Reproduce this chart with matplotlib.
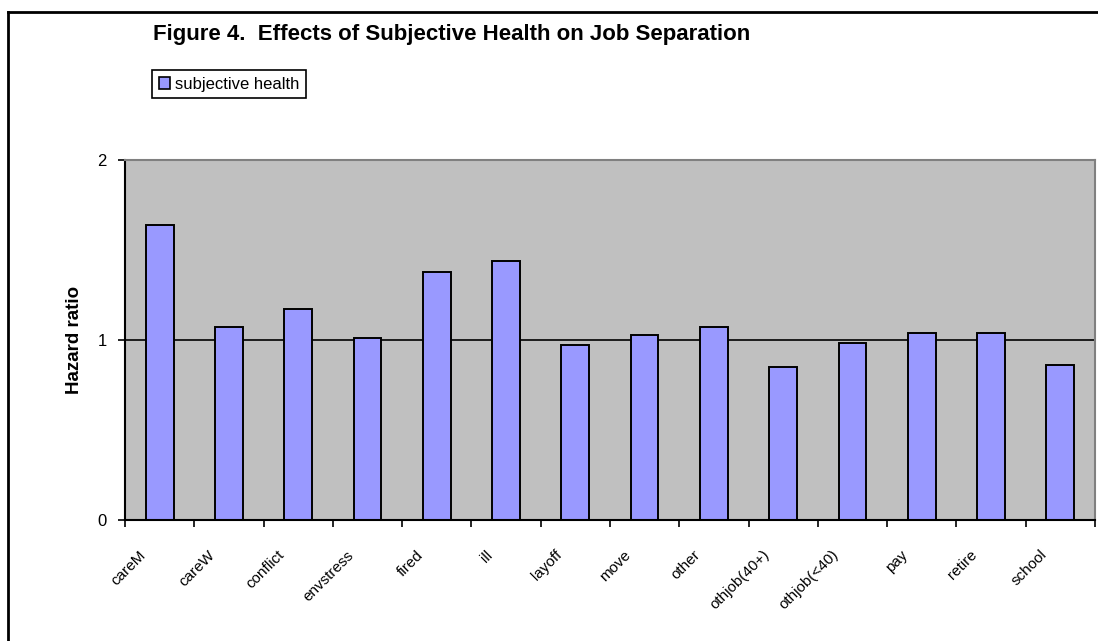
import matplotlib
matplotlib.use("Agg")
import matplotlib.pyplot as plt
from matplotlib.patches import Patch
from matplotlib.lines import Line2D
from matplotlib.transforms import ScaledTranslation
import numpy as np

plt.rcParams['font.family'] = ['Liberation Sans', 'DejaVu Sans']

# Hazard ratios by reason for job separation
reasons = ['careM', 'careW', 'conflict', 'envstress', 'fired', 'ill', 'layoff',
           'move', 'other', 'othjob(40+)', 'othjob(<40)', 'pay', 'retire', 'school']
hazard = [1.64, 1.07, 1.17, 1.01, 1.38, 1.44, 0.97,
          1.03, 1.07, 0.85, 0.985, 1.04, 1.04, 0.86]
y_ticks = [0, 1, 2]

W, H = 1098, 641
fig = plt.figure(figsize=(W / 100, H / 100), dpi=100)
ax = fig.add_axes([125 / W, 1 - 520 / H, 970 / W, 360 / H])

x = np.arange(len(reasons))
ax.set_facecolor('#C0C0C0')
ax.axhline(1, color='black', lw=1.2, zorder=1)
ax.bar(x, hazard, width=0.4, color='#9999FF', edgecolor='black', linewidth=1.4, zorder=2)

ax.set_xlim(-0.5, len(reasons) - 0.5)
ax.set_ylim(0, 2)

# boundaries between categories carry the tick marks, centres carry the names
ax.set_xticks(np.arange(-0.5, len(reasons), 1.0))
ax.set_xticklabels([])
ax.set_xticks(x, minor=True)
ax.set_xticklabels(reasons, minor=True, rotation=45, ha='right', va='top', fontsize=11)
ax.tick_params(axis='x', which='major', direction='out', length=5, width=1.2)
ax.tick_params(axis='x', which='minor', length=0, pad=20)
shift = ScaledTranslation(-11 / 100, 0, fig.dpi_scale_trans)
for lbl in ax.get_xticklabels(minor=True):
    lbl.set_transform(lbl.get_transform() + shift)

ax.set_yticks(y_ticks)
ax.set_yticklabels([str(v) for v in y_ticks], fontsize=12)
ax.tick_params(axis='y', direction='out', length=5, width=1.2, pad=8)

ax.spines['left'].set_linewidth(1.5)
ax.spines['bottom'].set_linewidth(1.5)
for side in ('top', 'right'):
    ax.spines[side].set_color('#808080')
    ax.spines[side].set_linewidth(1.5)

ax.set_ylabel('Hazard ratio', fontsize=13.5, fontweight='bold')
ax.yaxis.set_label_coords(-0.043, 0.5)

fig.text(153 / W, 1 - 40 / H, 'Figure 4.  Effects of Subjective Health on Job Separation',
         fontsize=16, fontweight='bold', va='baseline', ha='left')

handle = Patch(facecolor='#9999FF', edgecolor='black', linewidth=1.2)
leg = fig.legend([handle], ['subjective health'], loc='upper left',
                 bbox_to_anchor=(152 / W, 1 - 70 / H), fontsize=12,
                 fancybox=False, framealpha=1, edgecolor='black', borderaxespad=0,
                 handlelength=0.7, handleheight=0.7, handletextpad=0.3,
                 borderpad=0.4)
leg.get_frame().set_linewidth(1.2)

# outer chart border
fig.add_artist(Line2D([8 / W, 8 / W], [0, 1 - 12 / H], color='black', lw=2))
fig.add_artist(Line2D([8 / W, 1], [1 - 12 / H, 1 - 12 / H], color='black', lw=2))

fig.savefig('out.png', dpi=100)
